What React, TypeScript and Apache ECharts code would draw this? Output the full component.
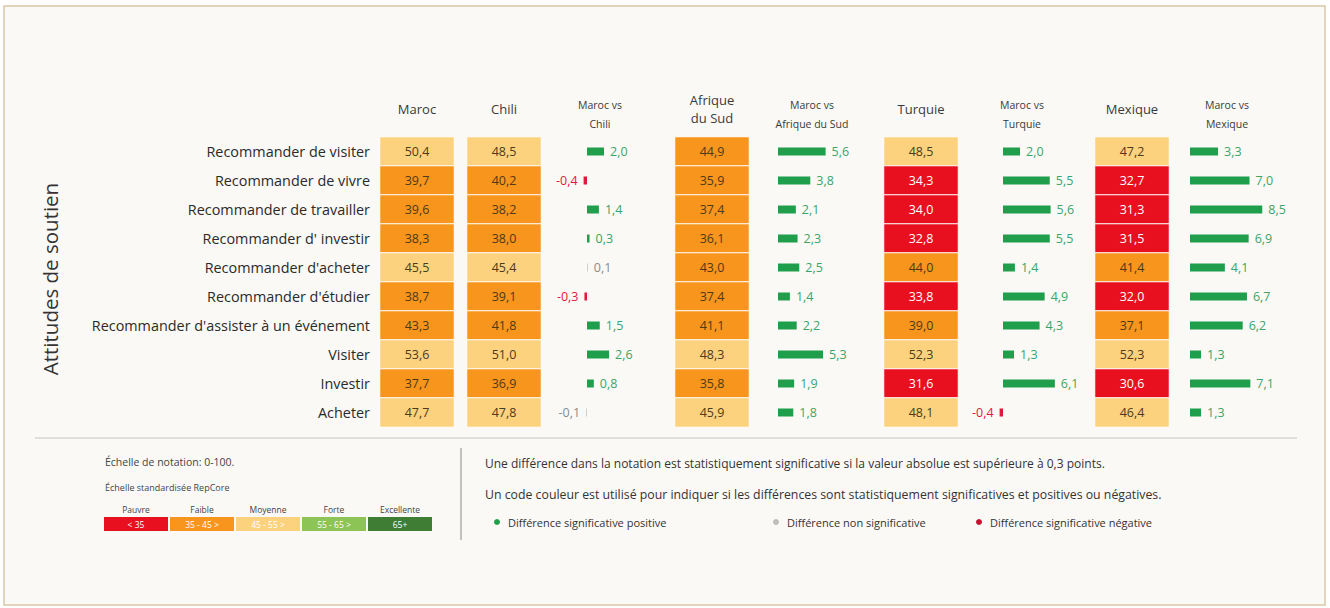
import React, { useEffect, useRef } from "react";
import * as echarts from "echarts";

const rows = [
  "Recommander de visiter",
  "Recommander de vivre",
  "Recommander de travailler",
  "Recommander d' investir",
  "Recommander d'acheter",
  "Recommander d'étudier",
  "Recommander d'assister à un événement",
  "Visiter",
  "Investir",
  "Acheter",
];

const maroc = [50.4, 39.7, 39.6, 38.3, 45.5, 38.7, 43.3, 53.6, 37.7, 47.7];
const chili = [48.5, 40.2, 38.2, 38.0, 45.4, 39.1, 41.8, 51.0, 36.9, 47.8];
const afriqueDuSud = [44.9, 35.9, 37.4, 36.1, 43.0, 37.4, 41.1, 48.3, 35.8, 45.9];
const turquie = [48.5, 34.3, 34.0, 32.8, 44.0, 33.8, 39.0, 52.3, 31.6, 48.1];
const mexique = [47.2, 32.7, 31.3, 31.5, 41.4, 32.0, 37.1, 52.3, 30.6, 46.4];

const diffChili = [2.0, -0.4, 1.4, 0.3, 0.1, -0.3, 1.5, 2.6, 0.8, -0.1];
const diffAfrique = [5.6, 3.8, 2.1, 2.3, 2.5, 1.4, 2.2, 5.3, 1.9, 1.8];
const diffTurquie = [2.0, 5.5, 5.6, 5.5, 1.4, 4.9, 4.3, 1.3, 6.1, -0.4];
const diffMexique = [3.3, 7.0, 8.5, 6.9, 4.1, 6.7, 6.2, 1.3, 7.1, 1.3];

const countryHeaders = ["Maroc", "Chili", "Afrique\ndu Sud", "Turquie", "Mexique"];
const diffHeaders = ["Maroc vs\nChili", "Maroc vs\nAfrique du Sud", "Maroc vs\nTurquie", "Maroc vs\nMexique"];

const scaleLabels = ["Pauvre", "Faible", "Moyenne", "Forte", "Excellente"];
const scaleRanges = ["< 35", "35 - 45 >", "45 - 55 >", "55 - 65 >", "65+"];

const FONT = "Open Sans";
const C_RED = "#e8101f";
const C_ORANGE = "#f7951d";
const C_LIGHT = "#fcd27e";
const C_LGREEN = "#8cc455";
const C_DGREEN = "#3f7d35";
const POS = "#1f9e4c";
const NEG = "#e3173d";
const NS = "#c9c9c9";

const fmt = (v: number) => v.toFixed(1).replace(".", ",");

export default function App() {
  const ref = useRef<HTMLDivElement>(null);
  useEffect(() => {
    if (!ref.current) return;
    const chart = echarts.init(ref.current, undefined, { renderer: "svg" });

    const top = 137;
    const height = 290;
    const heatCols = [
      { data: maroc, left: 380 },
      { data: chili, left: 467 },
      { data: afriqueDuSud, left: 675 },
      { data: turquie, left: 884 },
      { data: mexique, left: 1095 },
    ];
    const cellW = 74;
    const pxPerUnit = 8.5;
    const barMin = -2;
    const barMax = 10;
    const diffCols = [
      { data: diffChili, zero: 587, hx: 600 },
      { data: diffAfrique, zero: 778, hx: 812 },
      { data: diffTurquie, zero: 1003, hx: 1022 },
      { data: diffMexique, zero: 1190, hx: 1227 },
    ];

    const grids: any[] = [];
    const xAxes: any[] = [];
    const yAxes: any[] = [];
    const series: any[] = [];

    heatCols.forEach((c, k) => {
      grids.push({ left: c.left, top, width: cellW, height });
      xAxes.push({
        type: "category",
        gridIndex: k,
        data: [countryHeaders[k]],
        position: "top",
        axisLine: { show: false },
        axisTick: { show: false },
        axisLabel: {
          show: true,
          margin: 28,
          verticalAlign: "middle",
          fontFamily: FONT,
          fontSize: 13,
          lineHeight: 18,
          color: "#3a3a3a",
        },
      });
      yAxes.push({
        type: "category",
        gridIndex: k,
        data: rows,
        inverse: true,
        axisLine: { show: false },
        axisTick: { show: false },
        splitLine: { show: false },
        axisLabel: {
          show: k === 0,
          margin: 10,
          fontFamily: FONT,
          fontSize: 14.4,
          color: "#2a2a2a",
        },
      });
      series.push({
        type: "heatmap",
        xAxisIndex: k,
        yAxisIndex: k,
        itemStyle: { borderColor: "#ffffff", borderWidth: 1 },
        label: {
          show: true,
          fontFamily: FONT,
          fontSize: 12.5,
          formatter: (p: any) => fmt(p.value[2]),
        },
        emphasis: { disabled: true },
        data: c.data.map((v, i) => ({
          value: [0, i, v],
          label: { color: v < 35 ? "#ffffff" : "#4d3a1a" },
        })),
      });
    });

    diffCols.forEach((c, j) => {
      const gi = heatCols.length + j;
      const w = (barMax - barMin) * pxPerUnit;
      grids.push({ left: c.zero + barMin * pxPerUnit, top, width: w, height });
      xAxes.push({ type: "value", gridIndex: gi, min: barMin, max: barMax, show: false });
      yAxes.push({ type: "category", gridIndex: gi, data: rows, inverse: true, show: false });
      series.push({
        type: "bar",
        xAxisIndex: gi,
        yAxisIndex: gi,
        barWidth: 8,
        emphasis: { disabled: true },
        label: {
          show: true,
          fontFamily: FONT,
          fontSize: 12.5,
          distance: 6,
          formatter: (p: any) => fmt(p.value),
        },
        data: c.data.map((d) => {
          const sig = Math.abs(d) >= 0.3;
          const col = !sig ? NS : d > 0 ? POS : NEG;
          const lcol = !sig ? "#8a8a8a" : d > 0 ? "#3aa566" : NEG;
          return {
            value: d,
            itemStyle: { color: col },
            label: { position: d < 0 ? "left" : "right", color: lcol },
          };
        }),
      });
    });

    const graphic: any[] = [
      {
        type: "rect",
        z: -10,
        shape: { x: 4, y: 6, width: 1321, height: 599 },
        style: { fill: "#fbf9f6", stroke: "#d9c8a6", lineWidth: 1.5 },
      },
      {
        type: "text",
        x: 50,
        y: 279,
        rotation: Math.PI / 2,
        style: {
          text: "Attitudes de soutien",
          fontFamily: FONT,
          fontSize: 20.5,
          fill: "#333",
          align: "center",
          verticalAlign: "middle",
        },
      },
      {
        type: "line",
        shape: { x1: 35, y1: 438, x2: 1297, y2: 438 },
        style: { stroke: "#c4c4c4", lineWidth: 1 },
      },
      {
        type: "line",
        shape: { x1: 461, y1: 448, x2: 461, y2: 540 },
        style: { stroke: "#8a8a8a", lineWidth: 1 },
      },
      {
        type: "text",
        x: 105,
        y: 462,
        style: { text: "Échelle de notation: 0-100.", fontFamily: FONT, fontSize: 10.5, fill: "#444", verticalAlign: "middle" },
      },
      {
        type: "text",
        x: 105,
        y: 487,
        style: { text: "Échelle standardisée RepCore", fontFamily: FONT, fontSize: 9, fill: "#444", verticalAlign: "middle" },
      },
      {
        type: "text",
        x: 485,
        y: 463,
        style: {
          text: "Une différence dans la notation est statistiquement significative si la valeur absolue est supérieure à 0,3 points.",
          fontFamily: FONT,
          fontSize: 12,
          fill: "#333",
          verticalAlign: "middle",
        },
      },
      {
        type: "text",
        x: 485,
        y: 494,
        style: {
          text: "Un code couleur est utilisé pour indiquer si les différences sont statistiquement significatives et positives ou négatives.",
          fontFamily: FONT,
          fontSize: 12.3,
          fill: "#333",
          verticalAlign: "middle",
        },
      },
    ];

    diffHeaders.forEach((h, j) => {
      graphic.push({
        type: "text",
        x: diffCols[j].hx,
        y: 114,
        style: {
          text: h,
          fontFamily: FONT,
          fontSize: 10.5,
          lineHeight: 19,
          fill: "#3a3a3a",
          align: "center",
          verticalAlign: "middle",
        },
      });
    });

    const swCols = [C_RED, C_ORANGE, C_LIGHT, C_LGREEN, C_DGREEN];
    swCols.forEach((col, i) => {
      const x = 104 + i * 66;
      graphic.push({
        type: "rect",
        shape: { x, y: 517, width: 64, height: 14 },
        style: { fill: col },
      });
      graphic.push({
        type: "text",
        x: x + 32,
        y: 524,
        style: { text: scaleRanges[i], fontFamily: FONT, fontSize: 8.5, fill: "#fff", align: "center", verticalAlign: "middle" },
      });
      graphic.push({
        type: "text",
        x: x + 32,
        y: 509,
        style: { text: scaleLabels[i], fontFamily: FONT, fontSize: 8.5, fill: "#444", align: "center", verticalAlign: "middle" },
      });
    });

    const legendItems = [
      { x: 497, color: POS, text: "Différence significative positive" },
      { x: 776, color: "#bdbdbd", text: "Différence non significative" },
      { x: 979, color: "#c8102e", text: "Différence significative négative" },
    ];
    legendItems.forEach((l) => {
      graphic.push({ type: "circle", shape: { cx: l.x, cy: 522, r: 3 }, style: { fill: l.color } });
      graphic.push({
        type: "text",
        x: l.x + 11,
        y: 522,
        style: { text: l.text, fontFamily: FONT, fontSize: 11, fill: "#333", verticalAlign: "middle" },
      });
    });

    chart.setOption({
      animation: false,
      backgroundColor: "#ffffff",
      textStyle: { fontFamily: FONT },
      grid: grids,
      xAxis: xAxes,
      yAxis: yAxes,
      visualMap: {
        type: "piecewise",
        show: false,
        dimension: 2,
        seriesIndex: [0, 1, 2, 3, 4],
        pieces: [
          { lt: 35, color: C_RED },
          { gte: 35, lt: 45, color: C_ORANGE },
          { gte: 45, lt: 55, color: C_LIGHT },
          { gte: 55, lt: 65, color: C_LGREEN },
          { gte: 65, color: C_DGREEN },
        ],
      },
      series,
      graphic,
    });

    return () => chart.dispose();
  }, []);

  return (
    <div style={{ position: "absolute", left: 0, top: 0, width: 1330, height: 608 }}>
      <div ref={ref} style={{ width: 1330, height: 608 }} />
    </div>
  );
}
